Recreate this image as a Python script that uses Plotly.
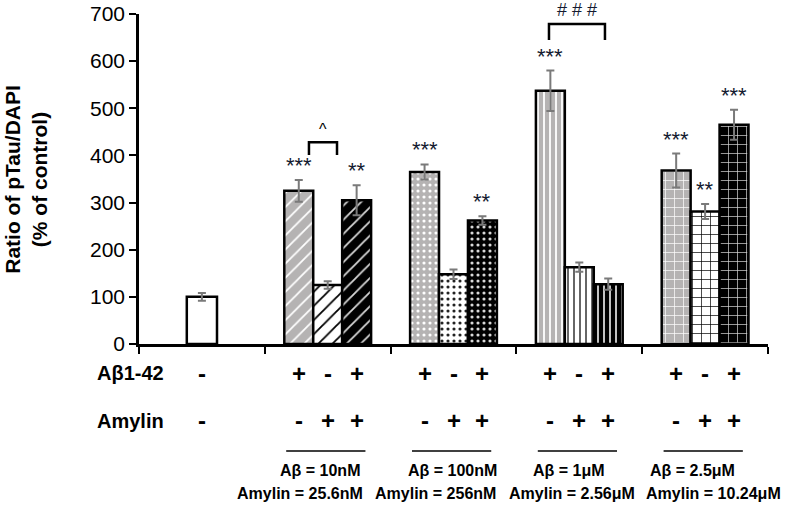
import plotly.graph_objects as go

# ---------------- data ----------------
categories = ["Control", "G1", "G2", "G3", "G4"]
group_names = ["G1", "G2", "G3", "G4"]

control_value = [100]
control_err = [8]

ab_values = [325, 365, 537, 368]
ab_err = [23, 16, 43, 36]
ab_sig = ["***", "***", "***", "***"]

amylin_values = [125, 148, 163, 281]
amylin_err = [8, 10, 10, 16]
amylin_sig = ["", "", "", "**"]

combo_values = [305, 262, 127, 465]
combo_err = [32, 9, 12, 32]
combo_sig = ["**", "**", "", "***"]

ab_row = ["+", "-", "+"]
amylin_row = ["-", "+", "+"]
control_row = ["-", "-"]

group_ab_labels = ["Aβ = 10nM", "Aβ = 100nM", "Aβ = 1μM", "Aβ = 2.5μM"]
group_amylin_labels = ["Amylin = 25.6nM", "Amylin = 256nM", "Amylin = 2.56μM", "Amylin = 10.24μM"]

y_ticks = [0, 100, 200, 300, 400, 500, 600, 700]

# ---------------- style ----------------
FONT = "Liberation Sans, Arial, sans-serif"
GRAY = "#b5b3b3"
BAR_W = 0.23
offsets = [-1.5 * BAR_W, -0.5 * BAR_W, 0.5 * BAR_W]
shapes_per_group = ["/", ".", "|", "+"]
pattern_sizes = [10, 6, 6, 9]
styles = [
    dict(bg=[GRAY] * 4, fg=["white"] * 4),
    dict(bg=["white"] * 4, fg=["black", "#222222", "#555555", "black"]),
    dict(bg=["black"] * 4, fg=["#d8d8d8"] * 4),
]
solid = [0.18, 0.22, 0.3, 0.15]
ab_label_shift = [-0.06, -0.01, -0.08, -0.10]
amylin_label_shift = [-0.22, -0.14, -0.06, 0.07]

fig = go.Figure()

fig.add_trace(go.Bar(
    x=["Control"], y=control_value,
    width=0.24, offset=-0.12,
    marker=dict(color="white", line=dict(color="black", width=2.5)),
    error_y=dict(type="data", array=control_err, color="#7a7a7a", thickness=2, width=4),
    showlegend=False,
))

series = [(ab_values, ab_err, ab_sig), (amylin_values, amylin_err, amylin_sig),
          (combo_values, combo_err, combo_sig)]
for k, (vals, errs, sigs) in enumerate(series):
    fig.add_trace(go.Bar(
        x=group_names, y=vals,
        width=BAR_W, offset=offsets[k],
        marker=dict(
            line=dict(color="black", width=2.5),
            pattern=dict(shape=shapes_per_group, bgcolor=styles[k]["bg"],
                         fgcolor=styles[k]["fg"], size=pattern_sizes,
                         solidity=solid, fillmode="replace", fgopacity=1),
        ),
        error_y=dict(type="data", array=errs, color="#7a7a7a", thickness=2, width=4),
        showlegend=False,
    ))

annotations = []
shapes = []
# significance stars
for k, (vals, errs, sigs) in enumerate(series):
    for i, (v, e, s) in enumerate(zip(vals, errs, sigs)):
        if s:
            annotations.append(dict(
                x=i + 1 + offsets[k] + BAR_W / 2, y=v + e, xref="x", yref="y",
                text=s, showarrow=False, xanchor="center", yanchor="bottom",
                font=dict(family=FONT, size=22, color="#141a30"), yshift=0,
            ))

# brackets
def bracket(x0, x1, ytop, ybot):
    shapes.append(dict(type="path", xref="x", yref="y",
                       path=f"M {x0} {ybot} L {x0} {ytop} L {x1} {ytop} L {x1} {ybot}",
                       line=dict(color="black", width=2.5)))

bracket(0.851, 1.074, 428, 401)
annotations.append(dict(x=0.962, y=432, xref="x", yref="y", text="^", showarrow=False,
                        xanchor="center", yanchor="bottom",
                        font=dict(family=FONT, size=16, color="black")))
bracket(2.759, 3.204, 679, 645)
annotations.append(dict(x=2.98, y=683, xref="x", yref="y", text="# # #", showarrow=False,
                        xanchor="center", yanchor="bottom",
                        font=dict(family=FONT, size=18, color="#141a30")))

# row labels
ROW1, ROW2 = -0.088, -0.233
annotations.append(dict(x=-0.07, y=ROW1, xref="paper", yref="paper", text="<b>Aβ1-42</b>",
                        showarrow=False, xanchor="left", yanchor="middle",
                        font=dict(family=FONT, size=20, color="black")))
annotations.append(dict(x=-0.07, y=ROW2, xref="paper", yref="paper", text="<b>Amylin</b>",
                        showarrow=False, xanchor="left", yanchor="middle",
                        font=dict(family=FONT, size=20, color="black")))
for row_y, sym in zip([ROW1, ROW2], control_row):
    annotations.append(dict(x=0, y=row_y, xref="x", yref="paper", text=f"<b>{sym}</b>",
                            showarrow=False, xanchor="center", yanchor="middle",
                            font=dict(family=FONT, size=24, color="black")))
for i in range(len(group_names)):
    for k in range(3):
        xc = i + 1 + offsets[k] + BAR_W / 2
        annotations.append(dict(x=xc, y=ROW1, xref="x", yref="paper", text=f"<b>{ab_row[k]}</b>",
                                showarrow=False, xanchor="center", yanchor="middle",
                                font=dict(family=FONT, size=24, color="black")))
        annotations.append(dict(x=xc, y=ROW2, xref="x", yref="paper", text=f"<b>{amylin_row[k]}</b>",
                                showarrow=False, xanchor="center", yanchor="middle",
                                font=dict(family=FONT, size=24, color="black")))
    gc = i + 1
    shapes.append(dict(type="line", xref="x", yref="paper", x0=gc - 0.33, x1=gc + 0.3,
                       y0=-0.324, y1=-0.324, line=dict(color="black", width=1.5)))
    annotations.append(dict(x=gc + ab_label_shift[i], y=-0.382, xref="x", yref="paper",
                            text=f"<b>{group_ab_labels[i]}</b>", showarrow=False,
                            xanchor="center", yanchor="middle",
                            font=dict(family=FONT, size=16, color="black")))
    annotations.append(dict(x=gc + amylin_label_shift[i], y=-0.452, xref="x", yref="paper",
                            text=f"<b>{group_amylin_labels[i]}</b>", showarrow=False,
                            xanchor="center", yanchor="middle",
                            font=dict(family=FONT, size=16, color="black")))

# y title
annotations.append(dict(x=-0.18, y=0.5, xref="paper", yref="paper", textangle=-90,
                        text="<b>Ratio of pTau/DAPI<br>(% of control)</b>", showarrow=False,
                        xanchor="center", yanchor="middle",
                        font=dict(family=FONT, size=21, color="black")))

fig.update_layout(
    width=800, height=505,
    margin=dict(l=139, r=32, t=14, b=161, autoexpand=False),
    paper_bgcolor="white", plot_bgcolor="white",
    barmode="overlay",
    annotations=annotations, shapes=shapes,
    font=dict(family=FONT, color="black"),
    xaxis=dict(type="category", categoryorder="array", categoryarray=categories,
               range=[-0.5, 4.5], tickson="boundaries", ticks="outside", ticklen=7,
               tickwidth=2, tickcolor="black", showticklabels=False, showline=True,
               linecolor="black", linewidth=2.5, showgrid=False, zeroline=False,
               automargin=False),
    yaxis=dict(range=[0, 700], tickvals=y_ticks, ticks="outside", ticklen=7, tickwidth=2,
               tickcolor="black", showline=True, linecolor="black", linewidth=2.5,
               showgrid=False, zeroline=False, automargin=False,
               tickfont=dict(family=FONT, size=21, color="black")),
)

fig.write_html("out.html", config={"displayModeBar": False},
               post_script="document.body.style.margin='0';document.body.style.overflow='hidden';")
